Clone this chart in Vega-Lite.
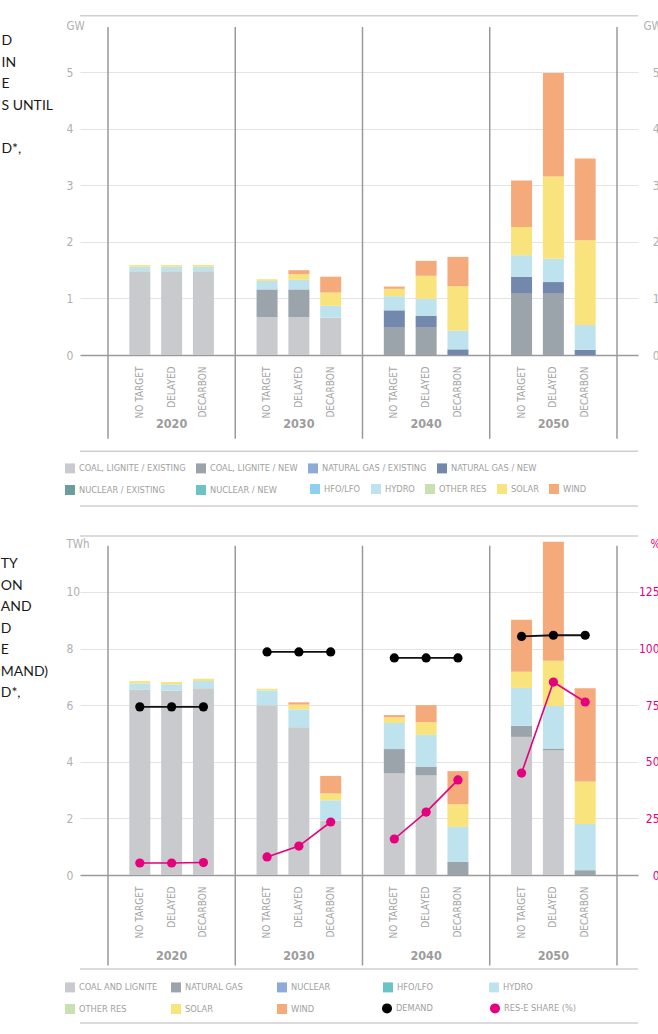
{
  "$schema": "https://vega.github.io/schema/vega-lite/v6.json",
  "background": "white",
  "padding": {"left": 0, "top": 14, "right": 0, "bottom": 0},
  "spacing": 28,
  "resolve": {"scale": {"color": "independent", "fill": "independent"}, "legend": {"color": "independent", "fill": "independent"}},
  "config": {
    "view": {"stroke": null},
    "font": "DejaVu Sans Condensed, sans-serif",
    "axis": {"labelFont": "DejaVu Sans Condensed, sans-serif", "titleFont": "DejaVu Sans Condensed, sans-serif"},
    "legend": {"labelFont": "DejaVu Sans Condensed, sans-serif"}
  },
  "datasets": {
    "one": [{}],
    "slots": [{"slot": "s0"}, {"slot": "s1"}, {"slot": "s2"}, {"slot": "s3"}, {"slot": "s4"}],
    "years": [
      {"slot": "2020 DELAYED", "year": "2020"},
      {"slot": "2030 DELAYED", "year": "2030"},
      {"slot": "2040 DELAYED", "year": "2040"},
      {"slot": "2050 DELAYED", "year": "2050"}
    ],
    "capacity": [
      {"slot": "2020 NO TARGET", "tech": "COAL, LIGNITE / EXISTING", "value": 1.48},
      {"slot": "2020 NO TARGET", "tech": "HYDRO", "value": 0.08},
      {"slot": "2020 NO TARGET", "tech": "SOLAR", "value": 0.03},
      {"slot": "2020 DELAYED", "tech": "COAL, LIGNITE / EXISTING", "value": 1.48},
      {"slot": "2020 DELAYED", "tech": "HYDRO", "value": 0.08},
      {"slot": "2020 DELAYED", "tech": "SOLAR", "value": 0.03},
      {"slot": "2020 DECARBON", "tech": "COAL, LIGNITE / EXISTING", "value": 1.48},
      {"slot": "2020 DECARBON", "tech": "HYDRO", "value": 0.08},
      {"slot": "2020 DECARBON", "tech": "SOLAR", "value": 0.03},
      {"slot": "2030 NO TARGET", "tech": "COAL, LIGNITE / EXISTING", "value": 0.67},
      {"slot": "2030 NO TARGET", "tech": "COAL, LIGNITE / NEW", "value": 0.49},
      {"slot": "2030 NO TARGET", "tech": "HYDRO", "value": 0.15},
      {"slot": "2030 NO TARGET", "tech": "SOLAR", "value": 0.03},
      {"slot": "2030 DELAYED", "tech": "COAL, LIGNITE / EXISTING", "value": 0.67},
      {"slot": "2030 DELAYED", "tech": "COAL, LIGNITE / NEW", "value": 0.49},
      {"slot": "2030 DELAYED", "tech": "HYDRO", "value": 0.17},
      {"slot": "2030 DELAYED", "tech": "SOLAR", "value": 0.10},
      {"slot": "2030 DELAYED", "tech": "WIND", "value": 0.07},
      {"slot": "2030 DECARBON", "tech": "COAL, LIGNITE / EXISTING", "value": 0.66},
      {"slot": "2030 DECARBON", "tech": "HYDRO", "value": 0.21},
      {"slot": "2030 DECARBON", "tech": "SOLAR", "value": 0.235},
      {"slot": "2030 DECARBON", "tech": "WIND", "value": 0.28},
      {"slot": "2040 NO TARGET", "tech": "COAL, LIGNITE / NEW", "value": 0.495},
      {"slot": "2040 NO TARGET", "tech": "NATURAL GAS / NEW", "value": 0.295},
      {"slot": "2040 NO TARGET", "tech": "HYDRO", "value": 0.25},
      {"slot": "2040 NO TARGET", "tech": "SOLAR", "value": 0.13},
      {"slot": "2040 NO TARGET", "tech": "WIND", "value": 0.04},
      {"slot": "2040 DELAYED", "tech": "COAL, LIGNITE / NEW", "value": 0.495},
      {"slot": "2040 DELAYED", "tech": "NATURAL GAS / NEW", "value": 0.195},
      {"slot": "2040 DELAYED", "tech": "HYDRO", "value": 0.30},
      {"slot": "2040 DELAYED", "tech": "SOLAR", "value": 0.41},
      {"slot": "2040 DELAYED", "tech": "WIND", "value": 0.265},
      {"slot": "2040 DECARBON", "tech": "NATURAL GAS / NEW", "value": 0.10},
      {"slot": "2040 DECARBON", "tech": "HYDRO", "value": 0.33},
      {"slot": "2040 DECARBON", "tech": "SOLAR", "value": 0.785},
      {"slot": "2040 DECARBON", "tech": "WIND", "value": 0.52},
      {"slot": "2050 NO TARGET", "tech": "COAL, LIGNITE / NEW", "value": 1.095},
      {"slot": "2050 NO TARGET", "tech": "NATURAL GAS / NEW", "value": 0.29},
      {"slot": "2050 NO TARGET", "tech": "HYDRO", "value": 0.38},
      {"slot": "2050 NO TARGET", "tech": "SOLAR", "value": 0.50},
      {"slot": "2050 NO TARGET", "tech": "WIND", "value": 0.82},
      {"slot": "2050 DELAYED", "tech": "COAL, LIGNITE / NEW", "value": 1.095},
      {"slot": "2050 DELAYED", "tech": "NATURAL GAS / NEW", "value": 0.195},
      {"slot": "2050 DELAYED", "tech": "HYDRO", "value": 0.41},
      {"slot": "2050 DELAYED", "tech": "SOLAR", "value": 1.455},
      {"slot": "2050 DELAYED", "tech": "WIND", "value": 1.83},
      {"slot": "2050 DECARBON", "tech": "NATURAL GAS / NEW", "value": 0.09},
      {"slot": "2050 DECARBON", "tech": "HYDRO", "value": 0.44},
      {"slot": "2050 DECARBON", "tech": "SOLAR", "value": 1.50},
      {"slot": "2050 DECARBON", "tech": "WIND", "value": 1.445}
    ],
    "generation": [
      {"slot": "2020 NO TARGET", "tech": "COAL AND LIGNITE", "value": 6.55},
      {"slot": "2020 NO TARGET", "tech": "HYDRO", "value": 0.22},
      {"slot": "2020 NO TARGET", "tech": "SOLAR", "value": 0.08},
      {"slot": "2020 DELAYED", "tech": "COAL AND LIGNITE", "value": 6.52},
      {"slot": "2020 DELAYED", "tech": "HYDRO", "value": 0.22},
      {"slot": "2020 DELAYED", "tech": "SOLAR", "value": 0.08},
      {"slot": "2020 DECARBON", "tech": "COAL AND LIGNITE", "value": 6.60},
      {"slot": "2020 DECARBON", "tech": "HYDRO", "value": 0.25},
      {"slot": "2020 DECARBON", "tech": "SOLAR", "value": 0.08},
      {"slot": "2030 NO TARGET", "tech": "COAL AND LIGNITE", "value": 6.0},
      {"slot": "2030 NO TARGET", "tech": "HYDRO", "value": 0.52},
      {"slot": "2030 NO TARGET", "tech": "SOLAR", "value": 0.06},
      {"slot": "2030 DELAYED", "tech": "COAL AND LIGNITE", "value": 5.22},
      {"slot": "2030 DELAYED", "tech": "HYDRO", "value": 0.63},
      {"slot": "2030 DELAYED", "tech": "SOLAR", "value": 0.17},
      {"slot": "2030 DELAYED", "tech": "WIND", "value": 0.08},
      {"slot": "2030 DECARBON", "tech": "COAL AND LIGNITE", "value": 1.92},
      {"slot": "2030 DECARBON", "tech": "HYDRO", "value": 0.72},
      {"slot": "2030 DECARBON", "tech": "SOLAR", "value": 0.24},
      {"slot": "2030 DECARBON", "tech": "WIND", "value": 0.62},
      {"slot": "2040 NO TARGET", "tech": "COAL AND LIGNITE", "value": 3.6},
      {"slot": "2040 NO TARGET", "tech": "NATURAL GAS", "value": 0.85},
      {"slot": "2040 NO TARGET", "tech": "HYDRO", "value": 0.92},
      {"slot": "2040 NO TARGET", "tech": "SOLAR", "value": 0.2},
      {"slot": "2040 NO TARGET", "tech": "WIND", "value": 0.08},
      {"slot": "2040 DELAYED", "tech": "COAL AND LIGNITE", "value": 3.53},
      {"slot": "2040 DELAYED", "tech": "NATURAL GAS", "value": 0.3},
      {"slot": "2040 DELAYED", "tech": "HYDRO", "value": 1.12},
      {"slot": "2040 DELAYED", "tech": "SOLAR", "value": 0.45},
      {"slot": "2040 DELAYED", "tech": "WIND", "value": 0.6},
      {"slot": "2040 DECARBON", "tech": "NATURAL GAS", "value": 0.46},
      {"slot": "2040 DECARBON", "tech": "HYDRO", "value": 1.24},
      {"slot": "2040 DECARBON", "tech": "SOLAR", "value": 0.8},
      {"slot": "2040 DECARBON", "tech": "WIND", "value": 1.17},
      {"slot": "2050 NO TARGET", "tech": "COAL AND LIGNITE", "value": 4.88},
      {"slot": "2050 NO TARGET", "tech": "NATURAL GAS", "value": 0.39},
      {"slot": "2050 NO TARGET", "tech": "HYDRO", "value": 1.34},
      {"slot": "2050 NO TARGET", "tech": "SOLAR", "value": 0.57},
      {"slot": "2050 NO TARGET", "tech": "WIND", "value": 1.84},
      {"slot": "2050 DELAYED", "tech": "COAL AND LIGNITE", "value": 4.4},
      {"slot": "2050 DELAYED", "tech": "NATURAL GAS", "value": 0.07},
      {"slot": "2050 DELAYED", "tech": "HYDRO", "value": 1.5},
      {"slot": "2050 DELAYED", "tech": "SOLAR", "value": 1.6},
      {"slot": "2050 DELAYED", "tech": "WIND", "value": 4.2},
      {"slot": "2050 DECARBON", "tech": "NATURAL GAS", "value": 0.17},
      {"slot": "2050 DECARBON", "tech": "HYDRO", "value": 1.63},
      {"slot": "2050 DECARBON", "tech": "SOLAR", "value": 1.5},
      {"slot": "2050 DECARBON", "tech": "WIND", "value": 3.3}
    ],
    "demand": [
      {"slot": "2020 NO TARGET", "year": "2020", "series": "DEMAND", "value": 5.94},
      {"slot": "2020 DELAYED", "year": "2020", "series": "DEMAND", "value": 5.94},
      {"slot": "2020 DECARBON", "year": "2020", "series": "DEMAND", "value": 5.94},
      {"slot": "2030 NO TARGET", "year": "2030", "series": "DEMAND", "value": 7.88},
      {"slot": "2030 DELAYED", "year": "2030", "series": "DEMAND", "value": 7.88},
      {"slot": "2030 DECARBON", "year": "2030", "series": "DEMAND", "value": 7.88},
      {"slot": "2040 NO TARGET", "year": "2040", "series": "DEMAND", "value": 7.67},
      {"slot": "2040 DELAYED", "year": "2040", "series": "DEMAND", "value": 7.67},
      {"slot": "2040 DECARBON", "year": "2040", "series": "DEMAND", "value": 7.67},
      {"slot": "2050 NO TARGET", "year": "2050", "series": "DEMAND", "value": 8.43},
      {"slot": "2050 DELAYED", "year": "2050", "series": "DEMAND", "value": 8.47},
      {"slot": "2050 DECARBON", "year": "2050", "series": "DEMAND", "value": 8.47}
    ],
    "share": [
      {"slot": "2020 NO TARGET", "year": "2020", "series": "RES-E SHARE (%)", "value": 5.3},
      {"slot": "2020 DELAYED", "year": "2020", "series": "RES-E SHARE (%)", "value": 5.3},
      {"slot": "2020 DECARBON", "year": "2020", "series": "RES-E SHARE (%)", "value": 5.5},
      {"slot": "2030 NO TARGET", "year": "2030", "series": "RES-E SHARE (%)", "value": 8.0},
      {"slot": "2030 DELAYED", "year": "2030", "series": "RES-E SHARE (%)", "value": 12.8},
      {"slot": "2030 DECARBON", "year": "2030", "series": "RES-E SHARE (%)", "value": 23.4},
      {"slot": "2040 NO TARGET", "year": "2040", "series": "RES-E SHARE (%)", "value": 15.9},
      {"slot": "2040 DELAYED", "year": "2040", "series": "RES-E SHARE (%)", "value": 27.8},
      {"slot": "2040 DECARBON", "year": "2040", "series": "RES-E SHARE (%)", "value": 42.0},
      {"slot": "2050 NO TARGET", "year": "2050", "series": "RES-E SHARE (%)", "value": 45.0},
      {"slot": "2050 DELAYED", "year": "2050", "series": "RES-E SHARE (%)", "value": 85.2},
      {"slot": "2050 DECARBON", "year": "2050", "series": "RES-E SHARE (%)", "value": 76.4}
    ]
  },
  "vconcat": [
    {
      "width": 558,
      "height": 328,
      "title": {"text": ["D", "IN", "E", "S UNTIL", "\u200b", "D*,"], "orient": "left", "angle": 0, "align": "left", "anchor": "end", "baseline": "top", "offset": 12, "dy": 7, "font": "Lato", "fontSize": 14, "fontWeight": "normal", "color": "#1a1a1a", "lineHeight": 21.6, "frame": "group"},
      "resolve": {"scale": {"y": "independent"}},
      "layer": [
        {
          "layer": [
            {
              "data": {"name": "capacity"},
              "transform": [{"stack": "value", "groupby": ["slot"], "as": ["v0", "v1"]}],
              "layer": [
                {
                  "transform": [{"filter": {"field": "tech", "oneOf": ["COAL, LIGNITE / EXISTING","COAL, LIGNITE / NEW","NATURAL GAS / EXISTING","NATURAL GAS / NEW","NUCLEAR / EXISTING","NUCLEAR / NEW"]}}],
                  "mark": {"type": "bar"},
                  "encoding": {
                    "x": {"field": "slot", "type": "nominal", "title": null,
                      "scale": {"domain": ["s0","2020 NO TARGET","2020 DELAYED","2020 DECARBON","s1","2030 NO TARGET","2030 DELAYED","2030 DECARBON","s2","2040 NO TARGET","2040 DELAYED","2040 DECARBON","s3","2050 NO TARGET","2050 DELAYED","2050 DECARBON","s4"], "paddingInner": 0.34, "paddingOuter": 0.44, "align": 0.625},
                      "axis": {"labelAngle": -90, "labelExpr": "substring(datum.label, 5)", "ticks": false, "domainColor": "#9a9a9a", "domainWidth": 1.5, "labelColor": "#a3a3a3", "labelFontSize": 10, "labelPadding": 11, "grid": false}},
                    "y": {"field": "v0", "type": "quantitative", "scale": {"domain": [0, 5.8], "nice": false},
                      "axis": {"values": [0, 1, 2, 3, 4, 5], "format": "d", "title": "GW", "titleAngle": 0, "titleAlign": "left", "titleBaseline": "bottom", "titleX": -14, "titleY": 4, "labelAlign": "left", "labelPadding": 14, "ticks": false, "domain": false, "grid": true, "gridColor": "#e4e4e4", "gridWidth": 1.2, "labelColor": "#b0b0b0", "titleColor": "#b0b0b0", "labelFontSize": 12, "titleFontSize": 11.5, "titleFontWeight": "normal"}},
                    "y2": {"field": "v1"},
                    "color": {"field": "tech", "type": "nominal",
                      "scale": {"domain": ["COAL, LIGNITE / EXISTING","COAL, LIGNITE / NEW","NATURAL GAS / EXISTING","NATURAL GAS / NEW","NUCLEAR / EXISTING","NUCLEAR / NEW"],
                        "range": ["#c8cacd","#9ba3ab","#8eaadb","#7289ad","#6a9e9b","#6cc3c3"]},
                      "legend": {"title": null, "orient": "none", "legendX": -15, "legendY": 436, "direction": "horizontal", "columns": 4, "gridAlign": "each", "symbolType": "square", "symbolSize": 100, "symbolStrokeWidth": 0, "labelFontSize": 9.2, "labelColor": "#a0a0a0", "labelOffset": 4, "columnPadding": 10, "rowPadding": 11}}
                  }
                },
                {
                  "transform": [{"filter": {"field": "tech", "oneOf": ["HFO/LFO","HYDRO","OTHER RES","SOLAR","WIND"]}}],
                  "mark": {"type": "bar"},
                  "encoding": {
                    "x": {"field": "slot", "type": "nominal"},
                    "y": {"field": "v0", "type": "quantitative"},
                    "y2": {"field": "v1"},
                    "fill": {"field": "tech", "type": "nominal",
                      "scale": {"domain": ["HFO/LFO","HYDRO","OTHER RES","SOLAR","WIND"],
                        "range": ["#8dd1f1","#bfe3ee","#c8e0b2","#f9e37d","#f5aa7b"]},
                      "legend": {"title": null, "orient": "none", "legendX": 230, "legendY": 457, "direction": "horizontal", "columns": 5, "gridAlign": "none", "symbolType": "square", "symbolSize": 100, "symbolStrokeWidth": 0, "labelFontSize": 9.2, "labelColor": "#a0a0a0", "labelOffset": 4, "columnPadding": 10}}
                  }
                }
              ]
            },
            {
              "data": {"name": "years"},
              "mark": {"type": "text", "fontWeight": "bold", "fontSize": 12.5, "color": "#9c9c9c", "baseline": "middle"},
              "encoding": {"x": {"field": "slot", "type": "nominal"}, "y": {"datum": -1.22, "type": "quantitative"}, "text": {"field": "year"}}
            },
            {"data": {"name": "one"}, "mark": {"type": "rule", "color": "#cfcfcf", "strokeWidth": 1.5}, "encoding": {"y": {"datum": 6.0, "type": "quantitative"}}},
            {"data": {"name": "one"}, "mark": {"type": "rule", "color": "#cfcfcf", "strokeWidth": 1.5}, "encoding": {"y": {"datum": -1.7, "type": "quantitative"}}},
            {"data": {"name": "one"}, "mark": {"type": "rule", "color": "#cfcfcf", "strokeWidth": 1.5}, "encoding": {"y": {"datum": -2.67, "type": "quantitative"}}}
          ]
        },
        {
          "data": {"name": "slots"},
          "mark": {"type": "rule", "color": "#9a9a9a", "strokeWidth": 1.5},
          "encoding": {
            "x": {"field": "slot", "type": "nominal"},
            "y": {"datum": 5.8, "type": "quantitative", "scale": {"domain": [0, 5.8], "nice": false},
              "axis": {"orient": "right", "values": [0, 1, 2, 3, 4, 5], "format": "d", "title": "GW", "titleAngle": 0, "titleAlign": "left", "titleBaseline": "bottom", "titleX": 5, "titleY": 4, "labelAlign": "right", "labelPadding": 21, "ticks": false, "domain": false, "grid": false, "labelColor": "#b0b0b0", "titleColor": "#b0b0b0", "labelFontSize": 12, "titleFontSize": 11.5, "titleFontWeight": "normal"}},
            "y2": {"datum": -1.48}
          }
        }
      ]
    },
    {
      "width": 558,
      "height": 334,
      "title": {"text": ["TY", "ON", "AND", "D", "E", "MAND)", "D*,"], "orient": "left", "angle": 0, "align": "left", "anchor": "end", "baseline": "top", "offset": 17, "dy": 16, "font": "Lato", "fontSize": 14, "fontWeight": "normal", "color": "#1a1a1a", "lineHeight": 21.5, "frame": "group"},
      "resolve": {"scale": {"y": "independent"}},
      "layer": [
        {
          "layer": [
            {
              "data": {"name": "generation"},
              "transform": [{"stack": "value", "groupby": ["slot"], "as": ["v0", "v1"]}],
              "mark": {"type": "bar"},
              "encoding": {
                "x": {"field": "slot", "type": "nominal", "title": null,
                  "scale": {"domain": ["s0","2020 NO TARGET","2020 DELAYED","2020 DECARBON","s1","2030 NO TARGET","2030 DELAYED","2030 DECARBON","s2","2040 NO TARGET","2040 DELAYED","2040 DECARBON","s3","2050 NO TARGET","2050 DELAYED","2050 DECARBON","s4"], "paddingInner": 0.34, "paddingOuter": 0.44, "align": 0.625},
                  "axis": {"labelAngle": -90, "labelExpr": "substring(datum.label, 5)", "ticks": false, "domainColor": "#9a9a9a", "domainWidth": 1.5, "labelColor": "#a3a3a3", "labelFontSize": 10, "labelPadding": 11, "grid": false}},
                "y": {"field": "v0", "type": "quantitative", "scale": {"domain": [0, 11.8], "nice": false},
                  "axis": {"values": [0, 2, 4, 6, 8, 10], "format": "d", "title": "TWh", "titleAngle": 0, "titleAlign": "left", "titleBaseline": "bottom", "titleX": -14, "titleY": 8, "labelAlign": "left", "labelPadding": 14, "ticks": false, "domain": false, "grid": true, "gridColor": "#e4e4e4", "gridWidth": 1.2, "labelColor": "#b0b0b0", "titleColor": "#b0b0b0", "labelFontSize": 12, "titleFontSize": 11.5, "titleFontWeight": "normal"}},
                "y2": {"field": "v1"},
                "color": {"field": "tech", "type": "nominal",
                  "scale": {"domain": ["COAL AND LIGNITE","NATURAL GAS","NUCLEAR","HFO/LFO","HYDRO","OTHER RES","SOLAR","WIND"],
                    "range": ["#c8cacd","#9ba3ab","#8eaadb","#6cc3c3","#bfe3ee","#c8e0b2","#f9e37d","#f5aa7b"]},
                  "legend": {"title": null, "orient": "none", "legendX": -15, "legendY": 441, "direction": "horizontal", "columns": 5, "gridAlign": "all", "symbolType": "square", "symbolSize": 100, "symbolStrokeWidth": 0, "labelFontSize": 9.2, "labelColor": "#a0a0a0", "labelOffset": 4, "columnPadding": 13, "rowPadding": 11}}
              }
            },
            {
              "data": {"name": "demand"},
              "mark": {"type": "line", "color": "#111111", "strokeWidth": 1.8},
              "encoding": {"x": {"field": "slot", "type": "nominal"}, "y": {"field": "value", "type": "quantitative"}, "detail": {"field": "year"}}
            },
            {
              "data": {"name": "demand"},
              "mark": {"type": "circle", "size": 85, "opacity": 1},
              "encoding": {"x": {"field": "slot", "type": "nominal"}, "y": {"field": "value", "type": "quantitative"},
                "fill": {"field": "series", "type": "nominal", "scale": {"domain": ["DEMAND", "RES-E SHARE (%)"], "range": ["#000000", "#e5007e"]},
                  "legend": {"title": null, "orient": "none", "legendX": 302, "legendY": 462, "direction": "horizontal", "columns": 2, "gridAlign": "all", "symbolType": "circle", "symbolSize": 100, "symbolStrokeWidth": 0, "labelFontSize": 9.2, "labelColor": "#a0a0a0", "labelOffset": 4, "columnPadding": 21}}}
            },
            {
              "data": {"name": "years"},
              "mark": {"type": "text", "fontWeight": "bold", "fontSize": 12.5, "color": "#9c9c9c", "baseline": "middle"},
              "encoding": {"x": {"field": "slot", "type": "nominal"}, "y": {"datum": -2.86, "type": "quantitative"}, "text": {"field": "year"}}
            },
            {
              "data": {"name": "slots"},
              "mark": {"type": "rule", "color": "#9a9a9a", "strokeWidth": 1.5},
              "encoding": {"x": {"field": "slot", "type": "nominal"}, "y": {"datum": 11.63, "type": "quantitative"}, "y2": {"datum": -3.2}}
            },
            {"data": {"name": "one"}, "mark": {"type": "rule", "color": "#cfcfcf", "strokeWidth": 1.5}, "encoding": {"y": {"datum": 11.98, "type": "quantitative"}}},
            {"data": {"name": "one"}, "mark": {"type": "rule", "color": "#cfcfcf", "strokeWidth": 1.5}, "encoding": {"y": {"datum": -3.32, "type": "quantitative"}}},
            {"data": {"name": "one"}, "mark": {"type": "rule", "color": "#cfcfcf", "strokeWidth": 1.5}, "encoding": {"y": {"datum": -5.23, "type": "quantitative"}}}
          ]
        },
        {
          "layer": [
            {
              "data": {"name": "share"},
              "mark": {"type": "line", "color": "#e5007e", "strokeWidth": 1.6},
              "encoding": {"x": {"field": "slot", "type": "nominal"},
                "y": {"field": "value", "type": "quantitative", "scale": {"domain": [0, 147.5], "nice": false},
                  "axis": {"orient": "right", "values": [0, 25, 50, 75, 100, 125], "format": "d", "title": "%", "titleAngle": 0, "titleAlign": "left", "titleBaseline": "bottom", "titleX": 12, "titleY": 8, "labelAlign": "right", "labelPadding": 21, "ticks": false, "domain": false, "grid": false, "labelColor": "#e5007e", "titleColor": "#e5007e", "labelFontSize": 12, "titleFontSize": 11.5, "titleFontWeight": "normal"}},
                "detail": {"field": "year"}}
            },
            {
              "data": {"name": "share"},
              "mark": {"type": "circle", "size": 85, "opacity": 1},
              "encoding": {"x": {"field": "slot", "type": "nominal"}, "y": {"field": "value", "type": "quantitative"},
                "fill": {"field": "series", "type": "nominal"}}
            }
          ]
        }
      ]
    }
  ]
}
